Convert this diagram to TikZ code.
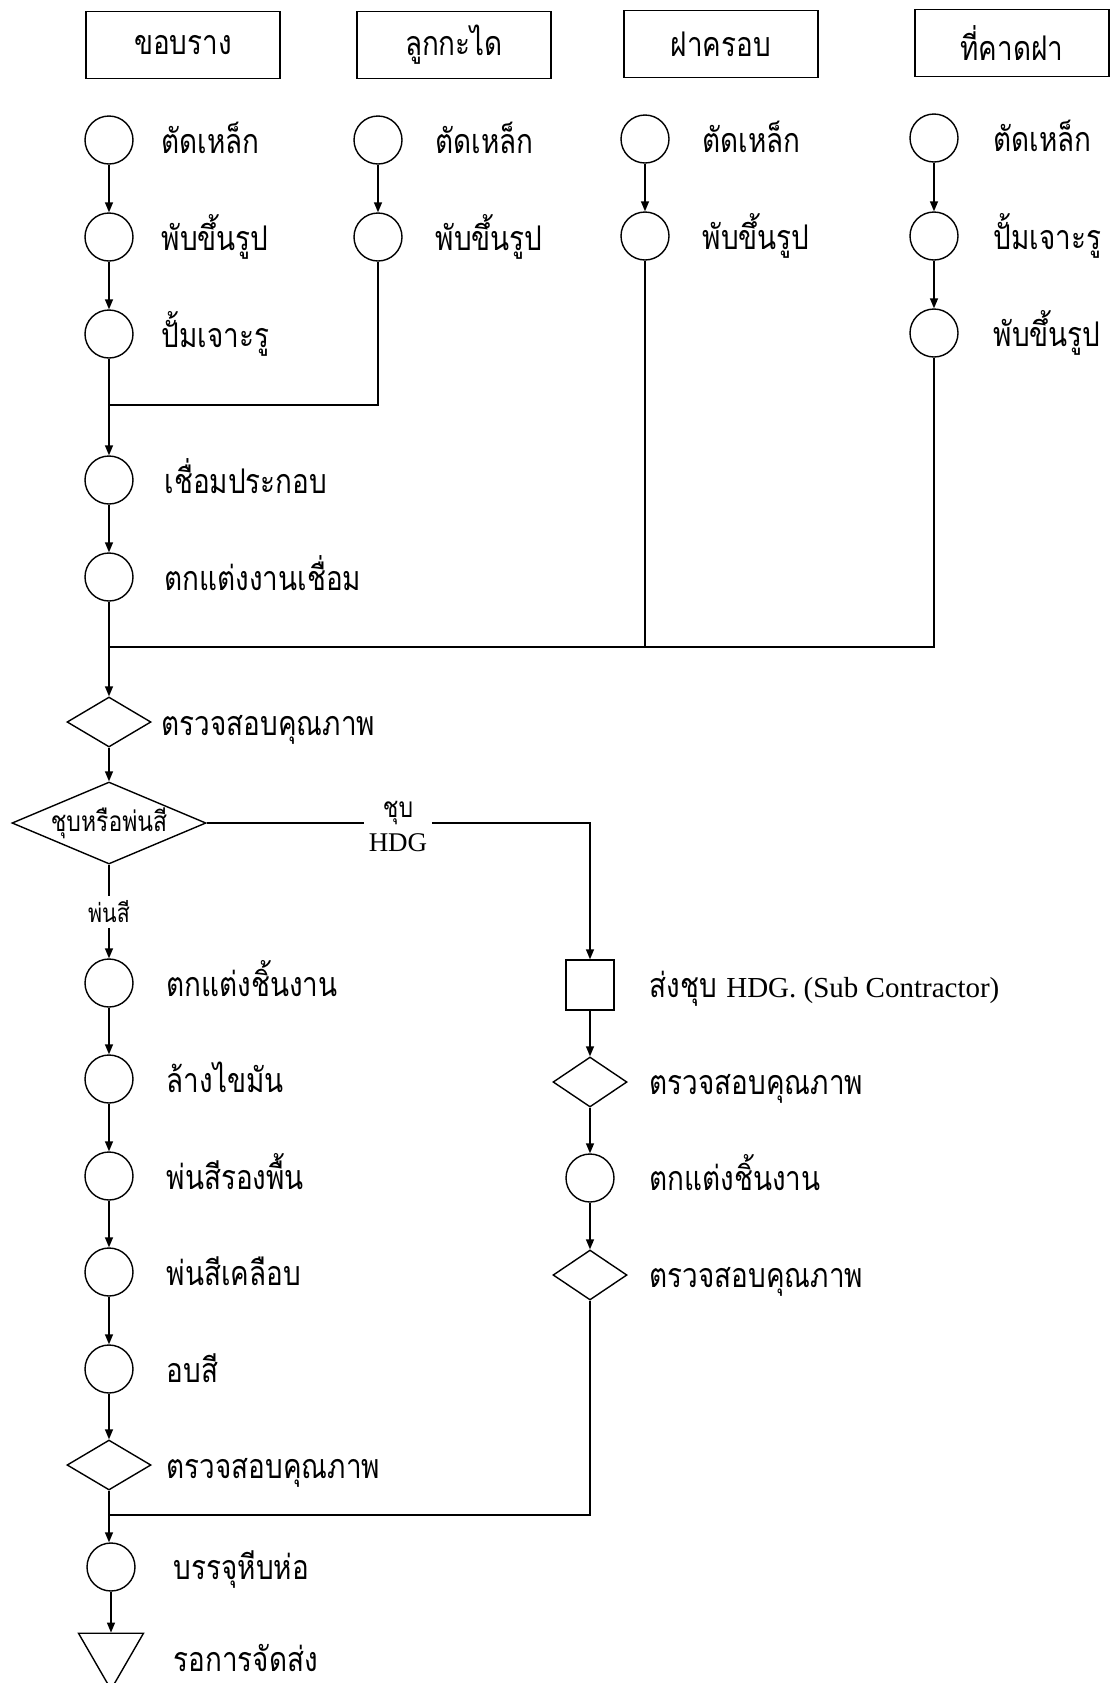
\documentclass[tikz,border=0pt]{standalone}
\usepackage{fontspec}
\setmainfont{Liberation Serif}
\newfontfamily\thai[Script=Thai,FakeStretch=0.82]{Loma}
\usetikzlibrary{shapes.geometric,arrows.meta}

\begin{document}
\begin{tikzpicture}[x=0.5pt,y=-0.5pt,line width=0.7pt,
  >={Triangle[length=5pt,width=4pt]},
  part/.style={draw,minimum width=97pt,minimum height=33.5pt,inner sep=0pt,font=\thai\fontsize{17}{20}\selectfont},
  op/.style={draw,circle,minimum size=24pt,inner sep=0pt},
  chk/.style={draw,diamond,minimum width=42pt,minimum height=25pt,inner sep=0pt},
  sub/.style={draw,minimum width=24pt,minimum height=25pt,inner sep=0pt},
  lbl/.style={anchor=base west,inner sep=0pt,font=\thai\fontsize{17}{20}\selectfont},
  tiny/.style={inner sep=2pt,font=\thai\fontsize{14}{16}\selectfont}]
\useasboundingbox (0,0) rectangle (1114,1683);

% parts
\node[part] (kob) at (183,45) {ขอบราง};
\node[part] (luk) at (454,45) {ลูกกะได};
\node[part] (fa)  at (721,44) {ฝาครอบ};
\node[part] (tee) at (1012,43) {ที่คาดฝา};

% first column
\node[op] (a1) at (109,140) {};
\node[op] (a2) at (109,237) {};
\node[op] (a3) at (109,334) {};
\node[lbl] (la1) at (161,153) {ตัดเหล็ก};
\node[lbl] (la2) at (161,250) {พับขึ้นรูป};
\node[lbl] (la3) at (161,347) {ปั้มเจาะรู};

\node[op] (b1) at (378,140) {};
\node[op] (b2) at (378,237) {};
\node[lbl] (lb1) at (435,153) {ตัดเหล็ก};
\node[lbl] (lb2) at (435,250) {พับขึ้นรูป};

\node[op] (c1) at (645,139) {};
\node[op] (c2) at (645,236) {};
\node[lbl] (lc1) at (702,152) {ตัดเหล็ก};
\node[lbl] (lc2) at (702,249) {พับขึ้นรูป};

\node[op] (d1) at (934,138) {};
\node[op] (d2) at (934,236) {};
\node[op] (d3) at (934,333) {};
\node[lbl] (ld1) at (993,151) {ตัดเหล็ก};
\node[lbl] (ld2) at (993,249) {ปั้มเจาะรู};
\node[lbl] (ld3) at (993,346) {พับขึ้นรูป};

\coordinate (m1) at (109,405);
\node[op] (a4) at (109,480) {};
\node[op] (a5) at (109,577) {};
\node[lbl] (la4) at (164,493) {เชื่อมประกอบ};
\node[lbl] (la5) at (164,590) {ตกแต่งงานเชื่อม};

\coordinate (m2) at (109,647);
\node[chk] (q1) at (109,722) {};
\node[lbl] (lq1) at (161,735) {ตรวจสอบคุณภาพ};

\node[draw,diamond,aspect=2.4,minimum width=97pt,minimum height=41pt,inner sep=0pt,
  font=\thai\fontsize{14}{16}\selectfont] (dec) at (109,823) {ชุบหรือพ่นสี};
\node[tiny,align=center] (hdg) at (398,826) {ชุบ\\[1pt]{\rmfamily\fontsize{13.5}{16}\selectfont HDG}};
\node[tiny,font=\thai\fontsize{13}{16}\selectfont] (spr) at (109,912) {พ่นสี};

% paint line
\node[op] (p1) at (109,983) {};
\node[op] (p2) at (109,1079) {};
\node[op] (p3) at (109,1176) {};
\node[op] (p4) at (109,1272) {};
\node[op] (p5) at (109,1369) {};
\node[chk] (q2) at (109,1465) {};
\node[lbl] (lp1) at (166,996) {ตกแต่งชิ้นงาน};
\node[lbl] (lp2) at (166,1092) {ล้างไขมัน};
\node[lbl] (lp3) at (166,1189) {พ่นสีรองพื้น};
\node[lbl] (lp4) at (166,1285) {พ่นสีเคลือบ};
\node[lbl] (lp5) at (166,1382) {อบสี};
\node[lbl] (lq2) at (166,1478) {ตรวจสอบคุณภาพ};

\coordinate (m3) at (109,1515);
\node[op] (pk) at (111,1567) {};
\node[draw,regular polygon,regular polygon sides=3,shape border rotate=180,
  minimum size=37.5pt,inner sep=0pt] (wt) at (111,1652) {};
\node[lbl] (lpk) at (173,1579) {บรรจุหีบห่อ};
\node[lbl] (lwt) at (173,1671) {รอการจัดส่ง};

% galvanizing line
\node[sub] (s1) at (590,985) {};
\node[chk,minimum width=37pt] (r1) at (590,1082) {};
\node[op] (r2) at (590,1178) {};
\node[chk,minimum width=37pt] (r3) at (590,1275) {};
\node[lbl] (ls1) at (649,997) {ส่งชุบ {\rmfamily\fontsize{14.5}{17}\selectfont HDG. (Sub Contractor)}};
\node[lbl] (lr1) at (649,1094) {ตรวจสอบคุณภาพ};
\node[lbl] (lr2) at (649,1190) {ตกแต่งชิ้นงาน};
\node[lbl] (lr3) at (649,1287) {ตรวจสอบคุณภาพ};

% connectors
\draw[->] (a1) -- (a2);
\draw[->] (a2) -- (a3);
\draw[->] (b1) -- (b2);
\draw[->] (c1) -- (c2);
\draw[->] (d1) -- (d2);
\draw[->] (d2) -- (d3);
\draw[->] (a3) -- (a4);
\draw (b2.south) |- (m1);
\draw[->] (a4) -- (a5);
\draw[->] (a5) -- (q1);
\draw (c2.south) -- (c2.south |- m2);
\draw (d3.south) |- (m2);
\draw[->] (q1) -- (dec);
\draw (dec.east) -- (dec.east -| hdg.west);
\draw[->] (hdg.east |- dec.east) -| (s1.north);
\draw (dec.south) -- (spr.north);
\draw[->] (spr.south) -- (p1);
\draw[->] (p1) -- (p2);
\draw[->] (p2) -- (p3);
\draw[->] (p3) -- (p4);
\draw[->] (p4) -- (p5);
\draw[->] (p5) -- (q2);
\draw[->] (q2.south) -- (pk.north -| q2);
\draw[->] (pk) -- (wt);
\draw[->] (s1) -- (r1);
\draw[->] (r1) -- (r2);
\draw[->] (r2) -- (r3);
\draw (r3.south) |- (m3);
\end{tikzpicture}
\end{document}
